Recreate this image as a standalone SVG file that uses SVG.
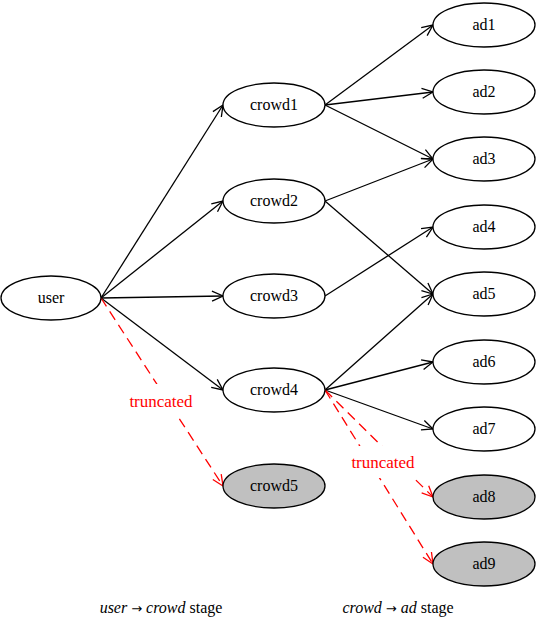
<svg xmlns="http://www.w3.org/2000/svg" width="536" height="618" viewBox="0 0 536 618">
<defs>
<marker id="a" markerUnits="userSpaceOnUse" markerWidth="14" markerHeight="12" refX="12" refY="6" orient="auto"><path d="M1,1 L12,6 L1,11" fill="none" stroke="#000" stroke-width="1.3"/></marker>
<marker id="ar" markerUnits="userSpaceOnUse" markerWidth="14" markerHeight="12" refX="12" refY="6" orient="auto"><path d="M1,1 L12,6 L1,11" fill="none" stroke="#ff0000" stroke-width="1.3"/></marker>
</defs>
<rect width="536" height="618" fill="#fff"/>
<g id="connectors">
<g stroke="#000" stroke-width="1.3" fill="none" marker-end="url(#a)">
<line x1="101" y1="298" x2="223" y2="105"/>
<line x1="101" y1="298" x2="223" y2="201"/>
<line x1="101" y1="298" x2="223" y2="296"/>
<line x1="101" y1="298" x2="223" y2="390"/>
<line x1="325" y1="105" x2="433" y2="25"/>
<line x1="325" y1="105" x2="433" y2="92"/>
<line x1="325" y1="105" x2="433" y2="159"/>
<line x1="325" y1="201" x2="433" y2="159"/>
<line x1="325" y1="201" x2="433" y2="294"/>
<line x1="325" y1="296" x2="433" y2="227"/>
<line x1="325" y1="390" x2="433" y2="294"/>
<line x1="325" y1="390" x2="433" y2="362"/>
<line x1="325" y1="390" x2="433" y2="429"/>
</g>
<g stroke="#ff0000" stroke-width="1.3" fill="none" stroke-dasharray="10,6" marker-end="url(#ar)">
<line x1="101" y1="298" x2="223" y2="486"/>
<line x1="325" y1="390" x2="433" y2="497"/>
<line x1="325" y1="390" x2="433" y2="564"/>
</g>
<rect x="124" y="384" width="74" height="32" fill="#fff"/>
<text font-family="Liberation Serif" font-size="17" text-anchor="middle" fill="#ff0000" x="161" y="407">truncated</text>
<rect x="346" y="446" width="74" height="32" fill="#fff"/>
<text font-family="Liberation Serif" font-size="17" text-anchor="middle" fill="#ff0000" x="383" y="468">truncated</text>
</g>
<g fill="#fff" stroke="#000" stroke-width="1.3">
<g id="user"><ellipse cx="51" cy="298" rx="50" ry="22"/></g>
<g id="crowd1"><ellipse cx="274" cy="105" rx="51" ry="22"/></g>
<g id="crowd2"><ellipse cx="274" cy="201" rx="51" ry="22"/></g>
<g id="crowd3"><ellipse cx="274" cy="296" rx="51" ry="22"/></g>
<g id="crowd4"><ellipse cx="274" cy="390" rx="51" ry="22"/></g>
<g id="crowd5"><ellipse cx="274" cy="486" rx="51" ry="22" fill="#c0c0c0"/></g>
<g id="ad1"><ellipse cx="484" cy="25" rx="51" ry="22"/></g>
<g id="ad2"><ellipse cx="484" cy="92" rx="51" ry="22"/></g>
<g id="ad3"><ellipse cx="484" cy="159" rx="51" ry="22"/></g>
<g id="ad4"><ellipse cx="484" cy="227" rx="51" ry="22"/></g>
<g id="ad5"><ellipse cx="484" cy="294" rx="51" ry="22"/></g>
<g id="ad6"><ellipse cx="484" cy="362" rx="51" ry="22"/></g>
<g id="ad7"><ellipse cx="484" cy="429" rx="51" ry="22"/></g>
<g id="ad8"><ellipse cx="484" cy="497" rx="51" ry="22" fill="#c0c0c0"/></g>
<g id="ad9"><ellipse cx="484" cy="564" rx="51" ry="22" fill="#c0c0c0"/></g>
</g>
<g id="labels">
<text font-family="Liberation Serif" font-size="16" text-anchor="middle" x="51" y="303">user</text>
<text font-family="Liberation Serif" font-size="16" text-anchor="middle" x="274" y="110">crowd1</text>
<text font-family="Liberation Serif" font-size="16" text-anchor="middle" x="274" y="206">crowd2</text>
<text font-family="Liberation Serif" font-size="16" text-anchor="middle" x="274" y="301">crowd3</text>
<text font-family="Liberation Serif" font-size="16" text-anchor="middle" x="274" y="395">crowd4</text>
<text font-family="Liberation Serif" font-size="16" text-anchor="middle" x="274" y="491">crowd5</text>
<text font-family="Liberation Serif" font-size="16" text-anchor="middle" x="484" y="30">ad1</text>
<text font-family="Liberation Serif" font-size="16" text-anchor="middle" x="484" y="97">ad2</text>
<text font-family="Liberation Serif" font-size="16" text-anchor="middle" x="484" y="164">ad3</text>
<text font-family="Liberation Serif" font-size="16" text-anchor="middle" x="484" y="232">ad4</text>
<text font-family="Liberation Serif" font-size="16" text-anchor="middle" x="484" y="299">ad5</text>
<text font-family="Liberation Serif" font-size="16" text-anchor="middle" x="484" y="367">ad6</text>
<text font-family="Liberation Serif" font-size="16" text-anchor="middle" x="484" y="434">ad7</text>
<text font-family="Liberation Serif" font-size="16" text-anchor="middle" x="484" y="502">ad8</text>
<text font-family="Liberation Serif" font-size="16" text-anchor="middle" x="484" y="569">ad9</text>
</g>
<g id="captions">
<text font-family="Liberation Serif" font-size="16" text-anchor="middle" x="161" y="613"><tspan font-style="italic">user</tspan> <tspan font-family="DejaVu Sans" font-size="13">&#8594;</tspan> <tspan font-style="italic">crowd</tspan> stage</text>
<text font-family="Liberation Serif" font-size="16" text-anchor="middle" x="398" y="613"><tspan font-style="italic">crowd</tspan> <tspan font-family="DejaVu Sans" font-size="13">&#8594;</tspan> <tspan font-style="italic">ad</tspan> stage</text>
</g>
</svg>
